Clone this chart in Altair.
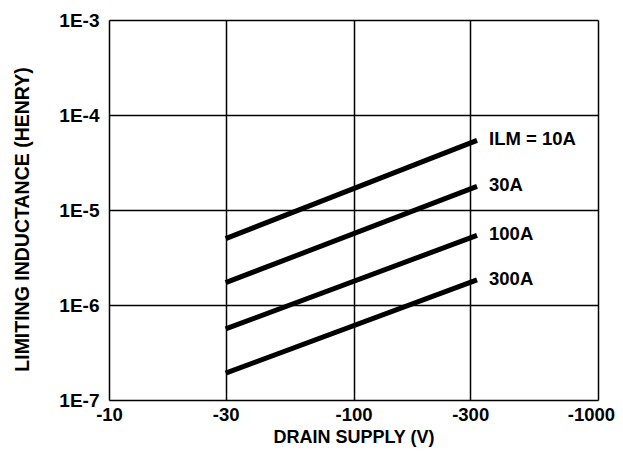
import altair as alt
import pandas as pd

series = ["ILM = 10A", "30A", "100A", "300A"]
x_start = [30, 30, 30, 30]
x_end = [320, 320, 320, 320]
y_start = [5.0e-6, 1.72e-6, 5.6e-7, 1.92e-7]
y_end = [5.4e-5, 1.77e-5, 5.4e-6, 1.84e-6]

x_ticks = [10, 30, 100, 300, 1000]
y_ticks = [1e-7, 1e-6, 1e-5, 1e-4, 1e-3]

rows = []
for s, x0, x1, y0, y1 in zip(series, x_start, x_end, y_start, y_end):
    rows.append({"series": s, "v": x0, "L": y0, "end": False})
    rows.append({"series": s, "v": x1, "L": y1, "end": True})
df = pd.DataFrame(rows)

FONT = "Liberation Sans"

x = alt.X("v:Q", scale=alt.Scale(type="log", domain=[10, 1000]),
          axis=alt.Axis(values=x_ticks, labelExpr="'-' + datum.value",
                        title="DRAIN SUPPLY (V)", grid=True, gridColor="black",
                        gridWidth=1.5, gridOpacity=1, ticks=False, domain=False,
                        labelPadding=5, labelFontSize=18.5, labelFont=FONT,
                        labelFontWeight="bold", labelColor="black",
                        labelOffset={"condition": {"test": "datum.value >= 1000", "value": -7}, "value": 0},
                        titleFontSize=18, titleFont=FONT, titleFontWeight="bold",
                        titleColor="black", titleY=37, titleBaseline="middle",
                        labelFlush=False, labelOverlap=False))
y = alt.Y("L:Q", scale=alt.Scale(type="log", domain=[1e-7, 1e-3]),
          axis=alt.Axis(values=y_ticks,
                        labelExpr="'1E-' + round(-log(datum.value)/LN10)",
                        title="LIMITING INDUCTANCE (HENRY)", grid=True,
                        gridColor="black", gridWidth=1.5, gridOpacity=1,
                        ticks=False, domain=False, labelPadding=10,
                        labelFontSize=19, labelFont=FONT, labelFontWeight="bold",
                        labelColor="black", titleFontSize=19.5, titleFont=FONT,
                        titleFontWeight="bold", titleColor="black",
                        titleX=-87, titleY=199, titleBaseline="middle",
                        titleAlign="center", labelFlush=False, labelOverlap=False))

lines = alt.Chart(df).mark_line(color="black", strokeWidth=5, strokeCap="butt").encode(
    x=x, y=y, detail="series:N")

labels = alt.Chart(df).transform_filter("datum.end").mark_text(
    align="left", baseline="middle", dx=12, dy=-1, fontSize=18.5, font=FONT,
    fontWeight="bold", color="black").encode(
    x=alt.X("v:Q", scale=alt.Scale(type="log", domain=[10, 1000])),
    y=alt.Y("L:Q", scale=alt.Scale(type="log", domain=[1e-7, 1e-3])),
    text="series:N")

chart = (lines + labels).properties(
    width=489, height=380,
    padding={"left": 101, "top": 12, "right": 17, "bottom": 47},
    autosize="none",
).configure_view(stroke="black", strokeWidth=2).configure(background="white")

chart.save("out.html", embed_options={"renderer": "svg", "actions": False})
